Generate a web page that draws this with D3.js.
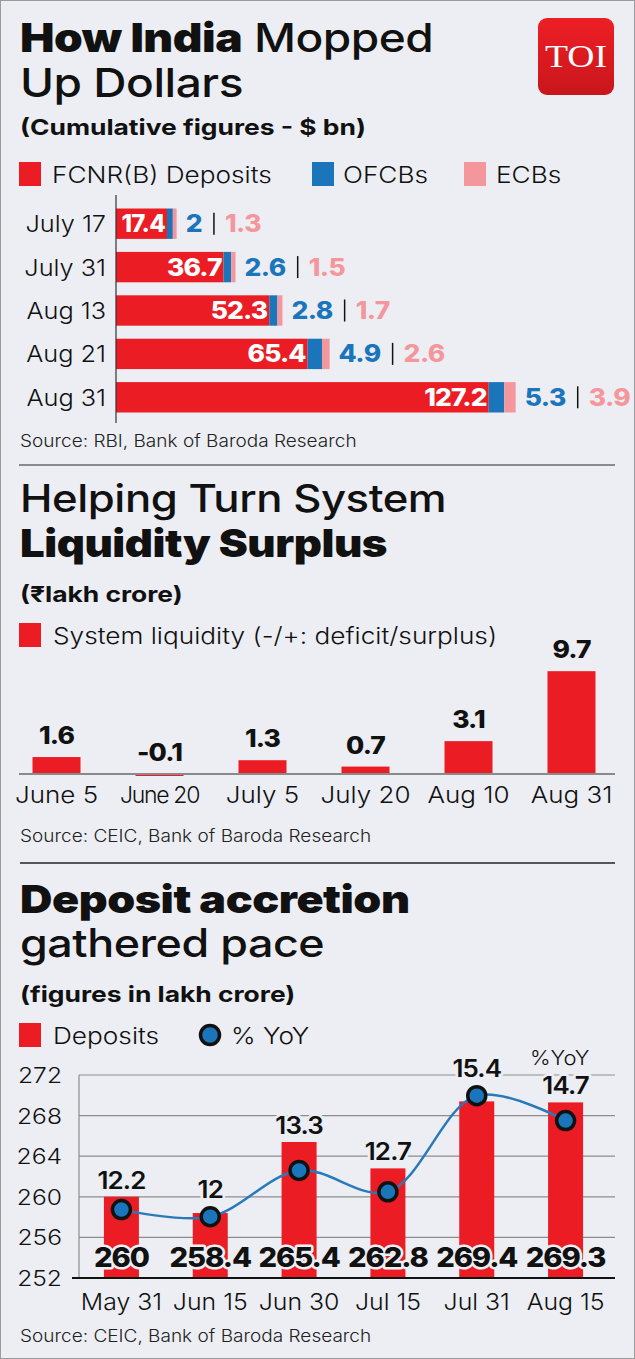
<!DOCTYPE html>
<html>
<head>
<meta charset="utf-8">
<script src="https://cdn.jsdelivr.net/npm/d3@7"></script>
<style>
  html, body { margin: 0; padding: 0; background: #eceef3; }
  svg { display: block; }
  text { font-family: Inter, "Open Sans", sans-serif; }
</style>
</head>
<body>
<svg id="chart" width="635" height="1359"></svg>
<script>
// ---------- DATA ----------
// Chart 1: How India Mopped Up Dollars (cumulative, $ bn)
const dollarDates = ["July 17", "July 31", "Aug 13", "Aug 21", "Aug 31"];
const fcnrValues = [17.4, 36.7, 52.3, 65.4, 127.2];
const ofcbValues = [2, 2.6, 2.8, 4.9, 5.3];
const ecbValues = [1.3, 1.5, 1.7, 2.6, 3.9];
const dollarLegend = ["FCNR(B) Deposits", "OFCBs", "ECBs"];

// Chart 2: System liquidity (₹ lakh crore)
const liqDates = ["June 5", "June 20", "July 5", "July 20", "Aug 10", "Aug 31"];
const liqValues = [1.6, -0.1, 1.3, 0.7, 3.1, 9.7];

// Chart 3: Deposits (lakh crore) and % YoY
const depDates = ["May 31", "Jun 15", "Jun 30", "Jul 15", "Jul 31", "Aug 15"];
const depValues = [260, 258.4, 265.4, 262.8, 269.4, 269.3];
const yoyValues = [12.2, 12, 13.3, 12.7, 15.4, 14.7];
const depTicks = [252, 256, 260, 264, 268, 272];

// ---------- STYLE ----------
const BG = "#eceef3";
const RED = "#ec1c24";
const BLUE = "#1a75bb";
const PINK = "#f4979d";
const W = 635, H = 1359;

const svg = d3.select("#chart");
svg.append("rect").attr("x", 0.5).attr("y", 0.5).attr("width", W - 1).attr("height", H - 1)
  .attr("fill", BG).attr("stroke", "#9a9a9a").attr("stroke-width", 1);

// text helper: horizontally widened text anchored at (x, y)
function T(parent, x, y, f, txt, opts = {}) {
  const t = parent.append("text")
    .attr("transform", `translate(${x},${y}) scale(${f},1)`)
    .attr("font-size", opts.size || 23)
    .attr("font-weight", opts.weight || 300)
    .attr("fill", opts.fill || "#111")
    .attr("text-anchor", opts.anchor || "start");
  if (opts.ls !== undefined) t.attr("letter-spacing", opts.ls);
  if (opts.halo) t.attr("stroke", BG).attr("stroke-width", opts.halo).attr("paint-order", "stroke").attr("stroke-linejoin", "round");
  if (txt !== null) t.text(txt);
  return t;
}

function title(lines, y0, size, lh) {
  lines.forEach((parts, i) => {
    const t = T(svg, 20, y0 + i * lh, 1.15, null, { size, weight: 500, ls: -0.4 });
    parts.forEach(p => t.append("tspan").attr("font-weight", p[1]).text(p[0]));
  });
}
function sub(txt, y) { T(svg, 20, y, 1.2, txt, { size: 22, weight: 700 }); }
function source(txt, y) { T(svg, 20, y, 1.12, txt, { size: 17, weight: 300, fill: "#222" }); }
function legendSq(x, y, color, label, tx) {
  svg.append("rect").attr("x", x).attr("y", y).attr("width", 22).attr("height", 24).attr("fill", color);
  T(svg, tx, y + 21, 1.14, label, { size: 23, weight: 300 });
}

// ================= CHART 1 =================
title([[["How India", 900], [" Mopped", 500]], [["Up Dollars", 500]]], 52, 40, 45);

// TOI logo
const defs = svg.append("defs");
const lg = defs.append("linearGradient").attr("id", "toiGrad").attr("x1", 0).attr("y1", 0).attr("x2", 0).attr("y2", 1);
lg.append("stop").attr("offset", "0%").attr("stop-color", "#ee1f25");
lg.append("stop").attr("offset", "100%").attr("stop-color", "#c8161c");
svg.append("rect").attr("x", 538).attr("y", 18).attr("width", 76).attr("height", 77).attr("rx", 9)
  .attr("fill", "url(#toiGrad)");
svg.append("text").attr("x", 576).attr("y", 67).attr("text-anchor", "middle")
  .style("font-family", "'Liberation Serif', 'DejaVu Serif', serif")
  .attr("font-size", 31).attr("fill", "#fff").attr("textLength", 62).attr("lengthAdjust", "spacingAndGlyphs")
  .text("TOI");

sub("(Cumulative figures - $ bn)", 135);

legendSq(19, 162, RED, dollarLegend[0], 52);
legendSq(312, 162, BLUE, dollarLegend[1], 343);
legendSq(464, 162, PINK, dollarLegend[2], 496);

const x1 = d3.scaleLinear().domain([0, 140]).range([116, 116 + 140 * 2.93]);
const y1 = d3.scaleBand().domain(dollarDates).range([202, 419]).paddingInner(0.3).paddingOuter(0.15);

const rows = dollarDates.map((d, i) => ({ d, f: fcnrValues[i], o: ofcbValues[i], e: ecbValues[i] }));
const g1 = svg.append("g");
const row = g1.selectAll("g.row").data(rows).join("g").attr("class", "row");
row.append("rect").attr("x", x1(0)).attr("y", r => y1(r.d)).attr("height", y1.bandwidth())
  .attr("width", r => x1(r.f) - x1(0)).attr("fill", RED);
row.append("rect").attr("x", r => x1(r.f)).attr("y", r => y1(r.d)).attr("height", y1.bandwidth())
  .attr("width", r => x1(r.f + r.o) - x1(r.f)).attr("fill", BLUE);
row.append("rect").attr("x", r => x1(r.f + r.o)).attr("y", r => y1(r.d)).attr("height", y1.bandwidth())
  .attr("width", r => x1(r.f + r.o + r.e) - x1(r.f + r.o)).attr("fill", PINK);
const cy = r => y1(r.d) + y1.bandwidth() / 2;
const NF = 1.1;
row.each(function (r) {
  const g = d3.select(this);
  const redLabel = T(g, x1(r.f) - 2, cy(r) + 8.5, r.f < 20 ? 1.0 : NF, r.f,
    { size: 24, weight: 800, fill: "#fff", anchor: "end", ls: -0.8 });
  const end = x1(r.f + r.o + r.e);
  const bt = T(g, end + 9, cy(r) + 8.5, NF, r.o, { size: 24, weight: 800, fill: BLUE, ls: -0.5 });
  const bw = bt.node().getComputedTextLength() * NF;
  const sx = end + 9 + bw + 12;
  g.append("line").attr("x1", sx).attr("x2", sx).attr("y1", cy(r) - 11).attr("y2", cy(r) + 11)
    .attr("stroke", "#111").attr("stroke-width", 1.5);
  T(g, sx + 11, cy(r) + 8.5, NF, r.e, { size: 24, weight: 800, fill: PINK, ls: -0.5 });
});
// category axis
g1.append("line").attr("x1", 116).attr("x2", 116).attr("y1", 195).attr("y2", 423)
  .attr("stroke", "#333").attr("stroke-width", 1.2);
dollarDates.forEach(d => T(g1, 106, y1(d) + y1.bandwidth() / 2 + 8.5, 1.1, d, { size: 23, weight: 300, anchor: "end" }));

source("Source: RBI, Bank of Baroda Research", 447);

svg.append("line").attr("x1", 19).attr("x2", 615).attr("y1", 465).attr("y2", 465)
  .attr("stroke", "#8a8a8a").attr("stroke-width", 2);

// ================= CHART 2 =================
title([[["Helping Turn System", 500]], [["Liquidity Surplus", 900]]], 512, 38, 45);
sub("(₹lakh crore)", 602);
legendSq(19, 623, RED, "System liquidity  (-/+: deficit/surplus)", 53);

const x2 = d3.scaleBand().domain(liqDates).range([5, 623]).paddingInner(0.534).paddingOuter(0.267);
const y2 = d3.scaleLinear().domain([0, 9.7]).range([774, 774 - 9.7 * 10.6]);
const g2 = svg.append("g");
g2.selectAll("rect").data(liqDates).join("rect")
  .attr("x", d => x2(d)).attr("width", x2.bandwidth())
  .attr("y", (d, i) => Math.min(y2(liqValues[i]), y2(0)))
  .attr("height", (d, i) => Math.max(2, Math.abs(y2(liqValues[i]) - y2(0))))
  .attr("fill", RED);
g2.append("line").attr("x1", 19).attr("x2", 615).attr("y1", y2(0)).attr("y2", y2(0))
  .attr("stroke", "#8a8a8a").attr("stroke-width", 2);
liqDates.forEach((d, i) => {
  const cx = x2(d) + x2.bandwidth() / 2;
  T(g2, cx, Math.min(y2(liqValues[i]), y2(0)) - 13, NF, liqValues[i],
    { size: 24, weight: 800, anchor: "middle", ls: -0.8 });
  T(g2, cx, 803, d === "June 20" ? 1.0 : 1.13, d,
    { size: 23, weight: 300, anchor: "middle", ls: d === "June 20" ? -1.3 : 0 });
});

source("Source: CEIC, Bank of Baroda Research", 842);

svg.append("line").attr("x1", 20).attr("x2", 615).attr("y1", 863).attr("y2", 863)
  .attr("stroke", "#222").attr("stroke-width", 1.5);

// ================= CHART 3 =================
title([[["Deposit accretion", 900]], [["gathered pace", 500]]], 913, 39, 44);
sub("(figures in lakh crore)", 1002);
legendSq(19, 1023, RED, "Deposits", 53);
svg.append("circle").attr("cx", 210).attr("cy", 1035).attr("r", 9.5)
  .attr("fill", BLUE).attr("stroke", "#111").attr("stroke-width", 3.5);
T(svg, 231, 1044, 1.14, "% YoY", { size: 23, weight: 300 });
T(svg, 530, 1065, 1.1, "%YoY", { size: 20, weight: 300 });

const x3 = d3.scaleBand().domain(depDates).range([77, 610]).paddingInner(0.606).paddingOuter(0.303);
const y3 = d3.scaleLinear().domain([252, 272]).range([1278, 1075]);
const yy = d3.scaleLinear().domain([10.28, 15.98]).range([1278, 1075]);
const g3 = svg.append("g");
// grid
g3.selectAll("line.grid").data(depTicks.filter(t => t !== 252)).join("line").attr("class", "grid")
  .attr("x1", 79).attr("x2", 615).attr("y1", d => y3(d)).attr("y2", d => y3(d))
  .attr("stroke", "#8d8d8d").attr("stroke-width", 1.2);
g3.append("line").attr("x1", 79).attr("x2", 79).attr("y1", y3(272)).attr("y2", y3(252))
  .attr("stroke", "#8d8d8d").attr("stroke-width", 1.2);
depTicks.forEach(t => T(g3, 62, y3(t) + 8, 1.12, t, { size: 22, weight: 300, anchor: "end" }));
// bars
g3.selectAll("rect.bar").data(depDates).join("rect").attr("class", "bar")
  .attr("x", d => x3(d)).attr("width", x3.bandwidth())
  .attr("y", (d, i) => y3(depValues[i])).attr("height", (d, i) => y3(252) - y3(depValues[i]))
  .attr("fill", RED);
g3.append("line").attr("x1", 72).attr("x2", 615).attr("y1", y3(252)).attr("y2", y3(252))
  .attr("stroke", "#111").attr("stroke-width", 2);
const cx3 = d => x3(d) + x3.bandwidth() / 2;
// deposit value labels (with halo)
depDates.forEach((d, i) => T(g3, cx3(d), 1267, 1.08, depValues[i],
  { size: 27, weight: 800, anchor: "middle", ls: -1, halo: 5 }));
// YoY line
const line = d3.line().x((d, i) => cx3(depDates[i])).y(d => yy(d)).curve(d3.curveCatmullRom.alpha(0.5));
g3.append("path").attr("d", line(yoyValues)).attr("fill", "none").attr("stroke", "#2a7ab9").attr("stroke-width", 2.5);
g3.selectAll("circle.yoy").data(yoyValues).join("circle").attr("class", "yoy")
  .attr("cx", (d, i) => cx3(depDates[i])).attr("cy", d => yy(d)).attr("r", 9)
  .attr("fill", BLUE).attr("stroke", "#111").attr("stroke-width", 3.5);
yoyValues.forEach((v, i) => T(g3, cx3(depDates[i]), Math.min(y3(depValues[i]), yy(v) - 11) - 8, 1.08, v,
  { size: 24, weight: 600, anchor: "middle", ls: -0.8, halo: 5 }));
// x labels
depDates.forEach(d => T(g3, cx3(d), 1310, 1.08, d, { size: 23, weight: 300, anchor: "middle" }));

source("Source: CEIC, Bank of Baroda Research", 1342);
</script>
</body>
</html>
